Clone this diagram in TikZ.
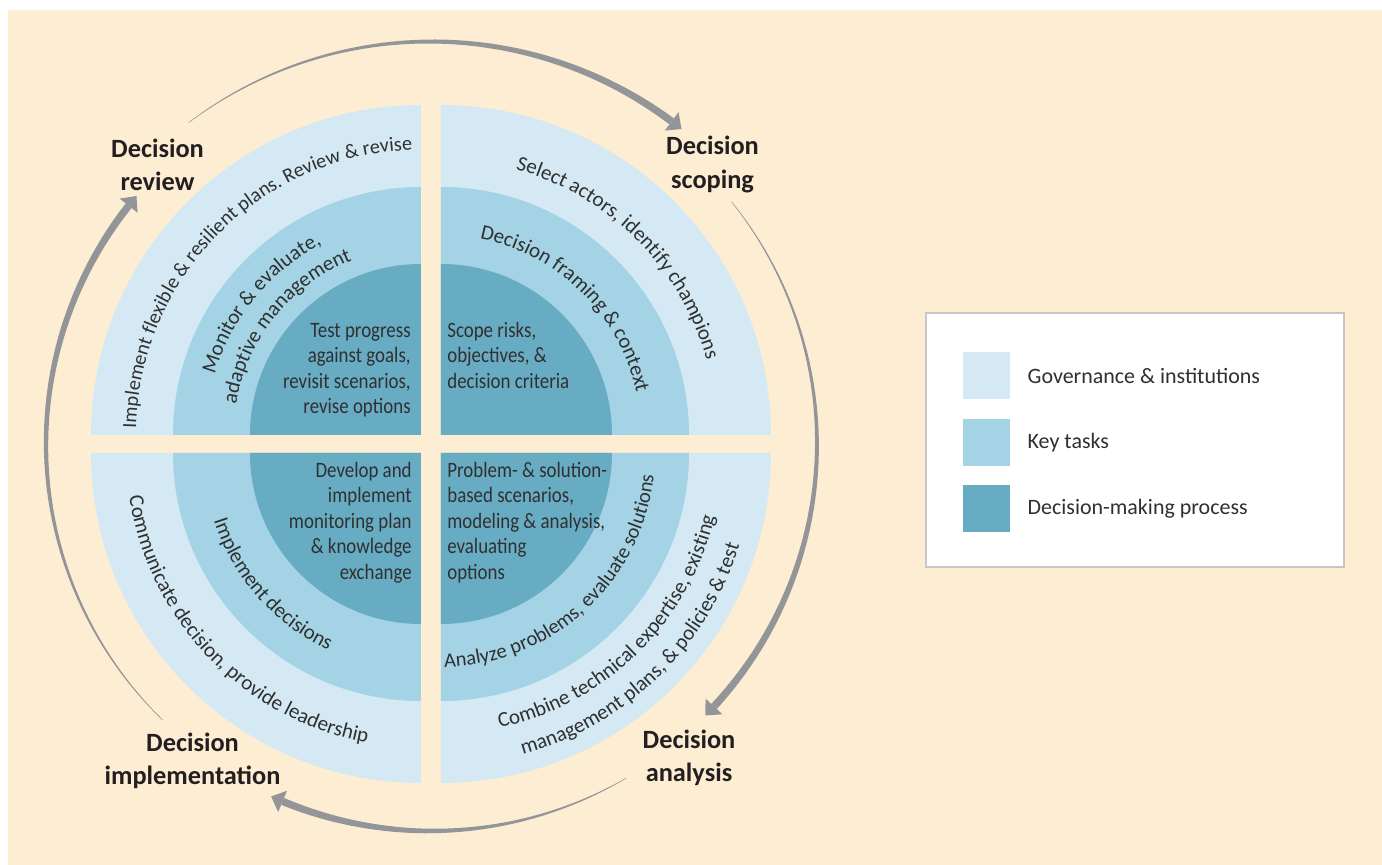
\documentclass[tikz,border=0pt]{standalone}
\usepackage{fontspec}
\setmainfont{Carlito}
\newfontfamily\condfont[FakeStretch=0.86]{Carlito}
\usepackage{tikz}
\usetikzlibrary{positioning,decorations.text,shadows}

\definecolor{bgbeige}{HTML}{FDEED3}
\definecolor{govblue}{HTML}{D4E9F4}
\definecolor{taskblue}{HTML}{A3D3E4}
\definecolor{procblue}{HTML}{68ACC4}
\definecolor{arrowgray}{HTML}{939598}
\definecolor{inkdark}{HTML}{231F20}
\definecolor{inkgray}{HTML}{303030}

\newcommand{\curvefont}{\fontsize{12}{14}\selectfont}
\newcommand{\boxfont}{\condfont\fontsize{12.5}{14.5}\selectfont}

\newcommand{\cwlabel}[5][12]{%
  \path[decorate, decoration={text along path, text align=center, text color=inkgray, text={|\fontsize{#1}{14}\selectfont|#5}}]
    (#2) ++({#4+70}:#3) arc[start angle={#4+70}, end angle={#4-70}, radius=#3];}
\newcommand{\ccwlabel}[5][12]{%
  \path[decorate, decoration={text along path, text align=center, text color=inkgray, text={|\fontsize{#1}{14}\selectfont|#5}}]
    (#2) ++({#4-70}:#3) arc[start angle={#4-70}, end angle={#4+70}, radius=#3];}
\newcommand{\cyclearrow}[3]{%
  \pgfmathsetmacro{\headang}{(#3)+28.65*0.5/(#1)}
  \fill[arrowgray] plot[domain=0:1, samples=50] ({(#2)+(\headang-(#2))*\x}:{#1+0.005+0.07*\x})
    -- plot[domain=0:1, samples=50] ({\headang+((#2)-\headang)*\x}:{#1-0.005-0.07*(1-\x)}) -- cycle;
  \fill[arrowgray] ({\headang}:{#1+0.23}) -- ({#3}:#1) -- ({\headang}:{#1-0.23}) -- cycle;}

\tikzset{
  stage/.style={font=\bfseries\fontsize{15}{18.8}\selectfont, align=center, text=inkdark, inner sep=0pt},
  taskbox/.style={font=\boxfont, text=inkgray, inner sep=0pt},
  legendbox/.style={draw=black!22, line width=0.8pt, fill=white, minimum width=8.36cm, minimum height=5.08cm,
    drop shadow={opacity=0.18, shadow xshift=0.5pt, shadow yshift=-0.5pt}},
  swatch/.style={minimum size=0.94cm, inner sep=0pt},
  legendtext/.style={font=\fontsize{12.5}{15}\selectfont, text=inkgray, inner sep=0pt}
}

\begin{document}
\begin{tikzpicture}
        \fill[white] (-8.62,-8.42) rectangle (19.02,8.88);
        \useasboundingbox (-8.62,-8.42) rectangle (19.02,8.88);
        \fill[bgbeige] (-8.46,-8.42) rectangle (19.02,8.68);

        \coordinate (tr) at (0.2,0.18);
        \coordinate (tl) at (-0.2,0.18);
        \coordinate (bl) at (-0.2,-0.18);
        \coordinate (br) at (0.2,-0.18);

        \foreach \q/\qa in {tr/0, tl/90, bl/180, br/270}
          \foreach \qr/\qc in {6.6/govblue, 4.96/taskblue, 3.42/procblue}
            \fill[\qc] (\q) -- ++(\qa:\qr) arc[start angle=\qa, end angle=\qa+90, radius=\qr] -- cycle;

        \cwlabel[11.5]{tl}{5.70}{135.2}{Implement flexible {\&} resilient plans. Review {\&} revise}
        \cwlabel{tl}{4.30}{140.5}{Monitor {\&} evaluate,}
        \cwlabel{tl}{3.75}{141}{adaptive management}
        \cwlabel{tr}{5.52}{45}{Select actors, identify champions}
        \cwlabel{tr}{4.00}{45.5}{Decision framing {\&} context}
        \ccwlabel{bl}{5.90}{224}{Communicate decision, provide leadership}
        \ccwlabel{bl}{4.36}{221.5}{Implement decisions}
        \ccwlabel[11.7]{br}{4.28}{312.5}{Analyze problems, evaluate solutions}
        \ccwlabel{br}{5.62}{314.5}{Combine technical expertise, existing}
        \ccwlabel{br}{6.25}{314}{management plans, {\&} policies {\&} test}

        \node[taskbox, align=right, anchor=north east] (goals) at (-0.4,2.42)
          {Test progress\\against goals,\\revisit scenarios,\\revise options};
        \node[taskbox, align=left, anchor=north west] (risks) at (0.32,2.45)
          {Scope risks,\\objectives, \&\\decision criteria};
        \node[taskbox, align=right, anchor=north east] (monitor) at (-0.38,-0.35)
          {Develop and\\implement\\monitoring plan\\\& knowledge\\exchange};
        \node[taskbox, align=left, anchor=north west] (scenarios) at (0.32,-0.35)
          {Problem- \& solution-\\based scenarios,\\modeling \& analysis,\\evaluating\\options};

        \node[stage] (review) at (-5.47,5.58) {Decision\\review};
        \node[stage] (scoping) at (5.63,5.59) {Decision\\scoping};
        \node[stage] (analysis) at (5.16,-6.27) {Decision\\analysis};
        \node[stage] (implementation) at (-4.77,-6.33) {Decision\\implementation};

        \cyclearrow{8.05}{127}{51.5}
        \cyclearrow{7.72}{38.9}{-44.7}
        \cyclearrow{7.74}{-59.7}{-114.4}
        \cyclearrow{7.70}{225.8}{139.9}

        \node[legendbox] (legend) at (14.08,0.08) {};
        \node[swatch, fill=govblue] (gov) at (11.11,1.37) {};
        \node[swatch, fill=taskblue, below=0.38cm of gov] (task) {};
        \node[swatch, fill=procblue, below=0.38cm of task] (proc) {};
        \node[legendtext, right=0.34cm of gov] (govtext) {Governance \& institutions};
        \node[legendtext, right=0.34cm of task] (tasktext) {Key tasks};
        \node[legendtext, right=0.34cm of proc] (proctext) {Decision-making process};
\end{tikzpicture}
\end{document}
